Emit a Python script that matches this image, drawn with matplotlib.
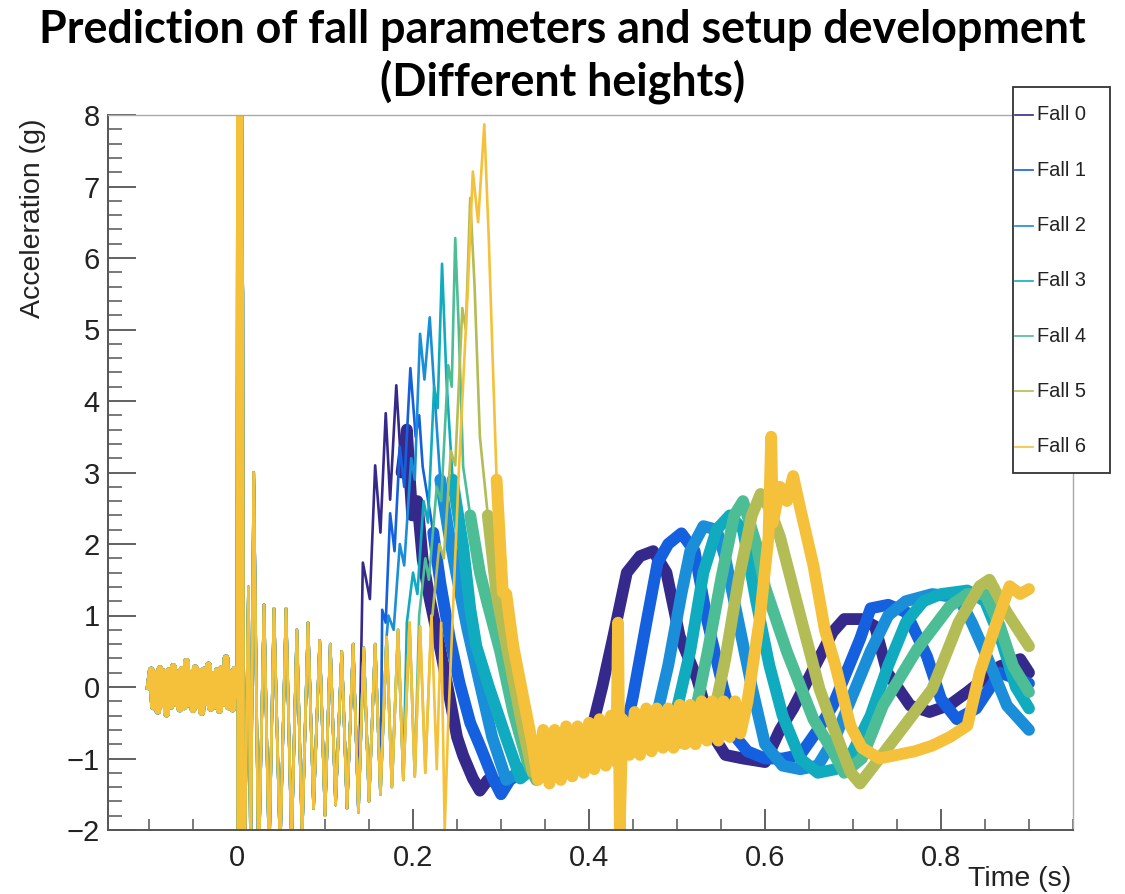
import numpy as np
import matplotlib
matplotlib.use("Agg")
import matplotlib.pyplot as plt
from matplotlib.lines import Line2D
from matplotlib.patches import Rectangle
from matplotlib.ticker import MultipleLocator

# ---------------- data ----------------
labels = ["Fall 0", "Fall 1", "Fall 2", "Fall 3", "Fall 4", "Fall 5", "Fall 6"]
colors = ["#352A8C", "#1560DE", "#1A8ED8", "#11ABBF", "#4DBD95", "#B3BC55", "#F5C13A"]

# pre-trigger noise band (shared by all falls)
pre_t = [-0.1, -0.0975, -0.095, -0.0925, -0.09, -0.0875, -0.085, -0.0825, -0.08, -0.0775,
         -0.075, -0.0725, -0.07, -0.0675, -0.065, -0.0625, -0.06, -0.0575, -0.055, -0.0525,
         -0.05, -0.0475, -0.045, -0.0425, -0.04, -0.0375, -0.035, -0.0325, -0.03, -0.0275,
         -0.025, -0.0225, -0.02, -0.0175, -0.015, -0.0125, -0.01, -0.0075, -0.005, -0.0025, 0.0]
pre_a = [0.00, 0.24, -0.28, 0.19, -0.34, 0.26, -0.25, 0.21, -0.38, 0.23,
         -0.27, 0.29, -0.23, 0.20, -0.31, 0.25, -0.28, 0.36, -0.24, 0.19,
         -0.32, 0.27, -0.26, 0.22, -0.36, 0.24, -0.22, 0.31, -0.30, 0.18,
         -0.27, 0.23, -0.33, 0.26, -0.23, 0.41, -0.28, 0.20, -0.31, 0.25, -0.10]

# release spike and ringing of the setup (shared)
ring_pts = [(0.0005, 9.0), (0.0012, -3.0), (0.002, 9.0), (0.0028, -3.0), (0.0036, 9.0),
            (0.0044, -3.0), (0.0052, 9.0), (0.006, 6.1), (0.0066, 5.5), (0.0075, -3.0),
            (0.0085, -2.6), (0.013, 1.4), (0.0155, -2.5), (0.019, 3.0), (0.0245, -2.6),
            (0.0307, 1.15), (0.0365, -2.4), (0.042, 1.1), (0.049, -2.3), (0.0557, 1.1),
            (0.062, -2.2), (0.068, 0.8), (0.074, -2.1), (0.0807, 0.9), (0.087, -1.7),
            (0.094, 0.65), (0.100, -1.8), (0.106, 0.6), (0.112, -1.65), (0.119, 0.5),
            (0.125, -1.7), (0.132, 0.6), (0.138, -1.75), (0.144, 0.55), (0.150, -1.6),
            (0.157, 0.6), (0.163, -1.5), (0.170, 0.7), (0.176, -1.4), (0.183, 0.8),
            (0.189, -1.3), (0.196, 0.9), (0.202, -1.25), (0.208, 0.85), (0.214, -1.2),
            (0.221, 1.0), (0.227, -1.15), (0.232, 0.9)]

fall0_pts = [(0.143, 1.74), (0.151, 1.23), (0.157, 3.1), (0.163, 2.16), (0.169, 3.83),
             (0.174, 2.62), (0.181, 4.22), (0.187, 3.0), (0.193, 3.6), (0.199, 2.4),
             (0.205, 2.6), (0.211, 1.78), (0.219, 1.23), (0.231, 0.53), (0.242, -0.17),
             (0.250, -0.7), (0.257, -0.96), (0.268, -1.28), (0.276, -1.45), (0.285, -1.3),
             (0.30, -1.35), (0.32, -1.2), (0.34, -1.1), (0.36, -1.05), (0.38, -0.95),
             (0.395, -0.85), (0.405, -0.5), (0.415, 0.0), (0.427, 0.67), (0.443, 1.6),
             (0.458, 1.83), (0.473, 1.9), (0.488, 1.6), (0.503, 0.71), (0.523, 0.11),
             (0.541, -0.68), (0.555, -0.95), (0.575, -1.0), (0.6, -1.05), (0.617, -0.6),
             (0.632, -0.3), (0.655, 0.25), (0.677, 0.77), (0.69, 0.95), (0.71, 0.95),
             (0.725, 0.85), (0.739, 0.2), (0.765, -0.26), (0.787, -0.35), (0.81, -0.25),
             (0.83, -0.07), (0.867, 0.29), (0.89, 0.39), (0.90, 0.2)]

fall1_pts = [(0.165, 1.08), (0.169, 0.9), (0.174, 2.43), (0.179, 1.9), (0.185, 3.36),
             (0.19, 2.8), (0.197, 4.46), (0.203, 3.5), (0.207, 3.8), (0.211, 3.08),
             (0.223, 2.16), (0.231, 1.46), (0.242, 0.67), (0.253, 0.05), (0.265, -0.5),
             (0.276, -0.82), (0.291, -1.28), (0.30, -1.5), (0.31, -1.3), (0.33, -1.15),
             (0.36, -1.05), (0.39, -0.95), (0.42, -0.9), (0.44, -0.7), (0.45, -0.13),
             (0.466, 0.95), (0.478, 1.74), (0.49, 2.0), (0.505, 2.15), (0.52, 1.9),
             (0.534, 0.95), (0.552, 0.01), (0.568, -0.72), (0.58, -0.9), (0.60, -1.0),
             (0.62, -1.0), (0.64, -0.95), (0.66, -0.6), (0.677, -0.26), (0.708, 0.67),
             (0.72, 1.1), (0.74, 1.15), (0.76, 1.05), (0.784, 0.43), (0.80, -0.17),
             (0.818, -0.45), (0.84, -0.3), (0.867, 0.2), (0.90, 0.05)]

fall2_pts = [(0.172, 1.0), (0.178, 0.8), (0.185, 2.0), (0.19, 1.7), (0.198, 3.2),
             (0.202, 2.9), (0.208, 4.94), (0.213, 4.3), (0.219, 5.17), (0.225, 4.0),
             (0.231, 2.9), (0.24, 2.2), (0.249, 1.6), (0.262, 0.8), (0.275, 0.1),
             (0.29, -0.7), (0.306, -1.3), (0.32, -1.2), (0.34, -1.0), (0.37, -0.95),
             (0.40, -0.9), (0.43, -0.85), (0.46, -0.8), (0.475, -0.5), (0.49, 0.3),
             (0.505, 1.3), (0.515, 1.9), (0.53, 2.25), (0.545, 2.2), (0.555, 1.8),
             (0.57, 0.9), (0.585, 0.0), (0.60, -0.8), (0.62, -1.1), (0.64, -1.15),
             (0.66, -1.1), (0.68, -0.7), (0.70, -0.1), (0.72, 0.5), (0.74, 1.0),
             (0.76, 1.2), (0.79, 1.3), (0.82, 1.25), (0.835, 0.9), (0.852, 0.43),
             (0.875, -0.26), (0.90, -0.6)]

fall3_pts = [(0.193, 0.9), (0.2, 1.6), (0.205, 1.3), (0.212, 2.6), (0.217, 2.3),
             (0.224, 4.2), (0.228, 3.9), (0.233, 5.92), (0.238, 4.3), (0.245, 2.9),
             (0.257, 1.96), (0.265, 1.1), (0.272, 0.57), (0.286, 0.01), (0.306, -0.72),
             (0.322, -1.28), (0.34, -1.1), (0.37, -0.95), (0.40, -0.9), (0.43, -0.85),
             (0.46, -0.8), (0.49, -0.7), (0.50, -0.3), (0.515, 0.5), (0.53, 1.6),
             (0.545, 2.2), (0.56, 2.4), (0.575, 2.2), (0.59, 1.2), (0.605, 0.3),
             (0.62, -0.4), (0.64, -1.0), (0.66, -1.2), (0.68, -1.15), (0.70, -0.9),
             (0.72, -0.4), (0.74, 0.3), (0.76, 0.9), (0.78, 1.2), (0.80, 1.3),
             (0.83, 1.35), (0.85, 1.2), (0.87, 0.6), (0.885, 0.0), (0.90, -0.3)]

fall4_pts = [(0.207, 1.0), (0.214, 1.8), (0.218, 1.5), (0.227, 2.8), (0.232, 2.6),
             (0.24, 4.5), (0.244, 4.2), (0.248, 6.28), (0.252, 5.0), (0.257, 3.08),
             (0.265, 2.4), (0.276, 1.6), (0.284, 1.2), (0.299, 0.5), (0.314, -0.35),
             (0.33, -1.05), (0.34, -1.3), (0.36, -1.1), (0.39, -0.95), (0.42, -0.9),
             (0.45, -0.85), (0.48, -0.8), (0.51, -0.75), (0.52, -0.4), (0.535, 0.5),
             (0.55, 1.5), (0.565, 2.4), (0.575, 2.6), (0.59, 2.0), (0.60, 1.4),
             (0.625, 0.49), (0.655, -0.45), (0.677, -0.9), (0.69, -1.2), (0.71, -1.0),
             (0.734, -0.26), (0.773, 0.53), (0.81, 1.13), (0.83, 1.3), (0.85, 1.3),
             (0.867, 0.85), (0.882, 0.29), (0.90, -0.07)]

fall5_pts = [(0.222, 1.0), (0.23, 2.0), (0.235, 1.8), (0.243, 3.3), (0.248, 3.1),
             (0.256, 5.3), (0.26, 5.0), (0.265, 6.84), (0.27, 5.6), (0.276, 3.5),
             (0.285, 2.4), (0.295, 1.3), (0.306, 0.6), (0.314, 0.1), (0.325, -0.58),
             (0.336, -1.19), (0.35, -1.2), (0.37, -1.0), (0.40, -0.95), (0.43, -0.9),
             (0.46, -0.85), (0.49, -0.8), (0.52, -0.75), (0.54, -0.5), (0.555, 0.4),
             (0.57, 1.5), (0.585, 2.4), (0.595, 2.7), (0.605, 2.5), (0.617, 2.1),
             (0.64, 1.0), (0.662, -0.03), (0.677, -0.54), (0.697, -1.19), (0.708, -1.35),
             (0.73, -1.0), (0.753, -0.63), (0.79, -0.03), (0.82, 0.9), (0.844, 1.41),
             (0.855, 1.5), (0.875, 1.04), (0.90, 0.57)]

fall6_pts = [(0.236, -2.0), (0.24, -0.5), (0.252, 3.0), (0.262, 5.5), (0.268, 7.21),
             (0.274, 6.5), (0.281, 7.87), (0.286, 6.3), (0.295, 2.9), (0.302, 1.32),
             (0.306, 1.3), (0.314, 0.57), (0.325, -0.13), (0.336, -0.82),
             (0.342, -1.3), (0.348, -0.6), (0.355, -1.35), (0.361, -0.6), (0.368, -1.3),
             (0.374, -0.55), (0.381, -1.25), (0.387, -0.55), (0.394, -1.2), (0.40, -0.5),
             (0.406, -1.15), (0.412, -0.45), (0.419, -1.1), (0.425, -0.4), (0.431, -1.05),
             (0.433, 0.9), (0.435, -2.0), (0.438, -0.45), (0.446, -0.95), (0.452, -0.35),
             (0.458, -0.95), (0.465, -0.3), (0.471, -0.9), (0.477, -0.3), (0.484, -0.85),
             (0.49, -0.3), (0.496, -0.85), (0.503, -0.25), (0.509, -0.8), (0.515, -0.25),
             (0.521, -0.8), (0.528, -0.2), (0.534, -0.75), (0.54, -0.2), (0.547, -0.75),
             (0.553, -0.2), (0.56, -0.7), (0.566, -0.2), (0.572, -0.65), (0.58, -0.21),
             (0.594, 0.95), (0.604, 2.1), (0.607, 3.5), (0.609, 2.3), (0.617, 2.8),
             (0.625, 2.6), (0.632, 2.95), (0.64, 2.5), (0.655, 1.7), (0.668, 0.8),
             (0.68, 0.3), (0.697, -0.54), (0.71, -0.85), (0.73, -1.0), (0.75, -0.95),
             (0.77, -0.9), (0.79, -0.82), (0.81, -0.7), (0.83, -0.54), (0.844, 0.2),
             (0.863, 0.9), (0.878, 1.41), (0.89, 1.3), (0.90, 1.37)]

falls = [fall0_pts, fall1_pts, fall2_pts, fall3_pts, fall4_pts, fall5_pts, fall6_pts]

title_line1 = "Prediction of fall parameters and setup development"
title_line2 = "(Different heights)"
xlabel = "Time (s)"
ylabel = "Acceleration (g)"

# ---------------- figure ----------------
W, H = 1125, 894
fig = plt.figure(figsize=(W / 100, H / 100), dpi=100)
fig.patch.set_facecolor("white")

L, R, T, B = 108, 1073, 115, 830
ax = fig.add_axes([L / W, 1 - B / H, (R - L) / W, (B - T) / H])

THICK_BELOW = 3.0  # the noisy band look starts once the impact peak has decayed
for pts, col in zip(falls, colors):
    own_t = [p[0] for p in pts]
    own_a = [p[1] for p in pts]
    rt = [p[0] for p in ring_pts if p[0] < own_t[0]]
    ra = [p[1] for p in ring_pts if p[0] < own_t[0]]
    ipk = int(np.argmax(own_a))
    isp = ipk
    while isp < len(own_a) - 1 and own_a[isp] > THICK_BELOW:
        isp += 1
    ax.plot(pre_t, pre_a, color=col, lw=4.6, solid_joinstyle="round")
    ax.plot([pre_t[-1]] + rt + own_t[:isp + 1], [pre_a[-1]] + ra + own_a[:isp + 1],
            color=col, lw=1.9, solid_joinstyle="round")
    ax.plot(own_t[isp:], own_a[isp:], color=col, lw=8.5,
            solid_joinstyle="round", solid_capstyle="round")

ax.set_xlim(-0.1466, 0.95)
ax.set_ylim(-2, 8)

ax.xaxis.set_minor_locator(MultipleLocator(0.05))
ax.yaxis.set_major_locator(MultipleLocator(1))
ax.yaxis.set_minor_locator(MultipleLocator(0.2))
ax.set_xticks([0, 0.2, 0.4, 0.6, 0.8])
ax.set_xticklabels(["0", "0.2", "0.4", "0.6", "0.8"])

for lab in ax.get_xticklabels() + ax.get_yticklabels():
    lab.set_fontfamily(["Liberation Sans", "DejaVu Sans"])
    lab.set_fontsize(21)
    lab.set_color("#222222")

ax.tick_params(axis="both", which="both", direction="in", colors="#555555",
               top=False, right=False)
ax.tick_params(axis="y", which="major", length=20, width=1.3, pad=6, labelcolor="#222222")
ax.tick_params(axis="y", which="minor", length=10, width=1.1)
ax.tick_params(axis="x", which="major", length=15, width=1.3, pad=10, labelcolor="#222222")
ax.tick_params(axis="x", which="minor", length=8, width=1.1)

for s in ["left", "bottom"]:
    ax.spines[s].set_color("#555555")
    ax.spines[s].set_linewidth(1.4)
for s in ["top", "right"]:
    ax.spines[s].set_color("#aaaaaa")
    ax.spines[s].set_linewidth(1.0)

fig.text(33 / W, 1 - 118 / H, ylabel, rotation=90, ha="center", va="top",
         fontsize=20.5, family=["Liberation Sans", "DejaVu Sans"], color="#222222")
fig.text(1071 / W, 1 - 892 / H, xlabel, ha="right", va="bottom",
         fontsize=20.5, family=["Liberation Sans", "DejaVu Sans"], color="#222222")

# title (bold, two centred lines)
t1 = fig.text(0.5, 1 - 43 / H, title_line1, ha="center", va="baseline",
              fontsize=30, fontweight="bold", family=["Lato", "DejaVu Sans"], color="black")
t2 = fig.text(0.5, 1 - 96 / H, title_line2, ha="center", va="baseline",
              fontsize=30, fontweight="bold", family=["Lato", "DejaVu Sans"], color="black")
fig.canvas.draw()
w1 = t1.get_window_extent().width
fs = 30 * 1047 / w1
t1.set_fontsize(fs)
t2.set_fontsize(fs)

# legend box drawn in figure pixels (ROOT style)
lx0, lx1, ly0, ly1 = 1013, 1110, 87, 473
fig.patches.append(Rectangle((lx0 / W, 1 - ly1 / H), (lx1 - lx0) / W, (ly1 - ly0) / H,
                             transform=fig.transFigure, facecolor="white",
                             edgecolor="#333333", linewidth=1.3, zorder=5))
row0, drow = 115, 55.3
for i, (lab, col) in enumerate(zip(labels, colors)):
    yy = 1 - (row0 + i * drow) / H
    fig.add_artist(Line2D([1015 / W, 1033 / W], [yy, yy], transform=fig.transFigure,
                          color=col, lw=1.2, zorder=6))
    fig.text(1037 / W, yy, lab, ha="left", va="center", fontsize=14.4,
             family=["Liberation Sans", "DejaVu Sans"], color="#222222", zorder=6)

fig.savefig("out.png", dpi=100, facecolor="white")
